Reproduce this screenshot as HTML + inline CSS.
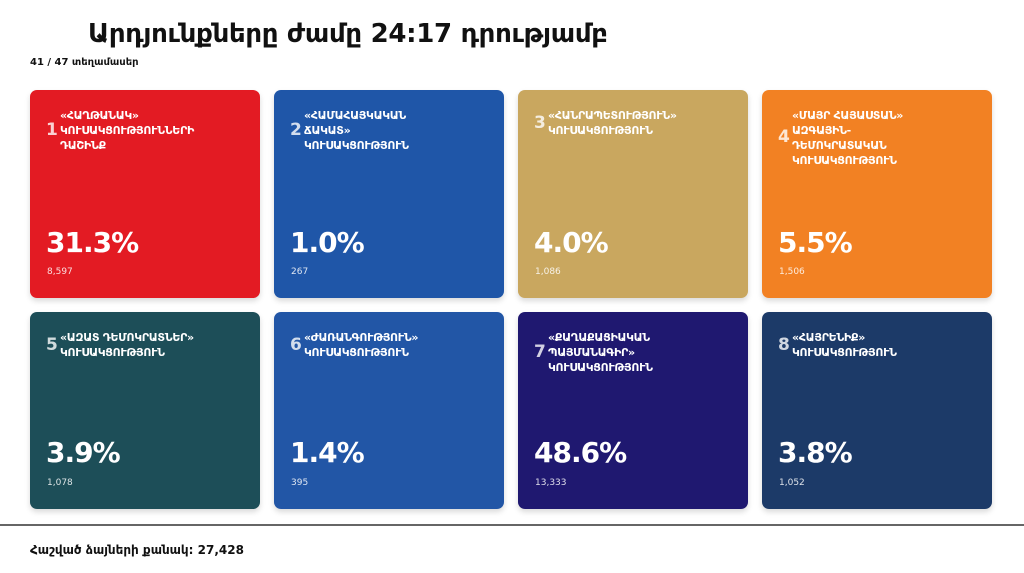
<!DOCTYPE html>
<html><head><meta charset="utf-8"><style>
body{margin:0;width:1024px;height:573px;background:#fff;font-family:"DejaVu Sans","Liberation Sans",sans-serif;position:relative;overflow:hidden}
.t{position:absolute;left:88px;top:19px;font-size:26px;font-weight:bold;color:#111;white-space:nowrap;letter-spacing:-0.3px}
.s{position:absolute;left:30px;top:57px;font-size:10px;font-weight:bold;color:#111}
.c{position:absolute;width:230px;border-radius:7px;color:#fff;box-shadow:0 3px 6px rgba(0,0,0,.15)}
.r1{top:90px;height:208px}.r2{top:312px;height:197px}
.n{position:absolute;left:16px;font-size:17px;font-weight:bold;color:rgba(255,255,255,.8)}
.l{position:absolute;left:30px;top:18px;font-size:11px;font-weight:bold;line-height:15px;white-space:nowrap;letter-spacing:-0.3px}
.p{position:absolute;left:16px;font-size:28px;font-weight:bold;letter-spacing:-1px}
.v{position:absolute;left:17px;font-size:9px;opacity:.85}
.r1 .p{top:136px}.r1 .v{top:177px}
.r2 .p{top:124px}.r2 .v{top:166px}
.hr{position:absolute;left:0;top:524px;width:1024px;height:2px;background:#666}
.f{position:absolute;left:30px;top:543px;font-size:12px;font-weight:bold;color:#111}
</style></head><body>
<div class="t">Արդյունքները ժամը 24:17 դրությամբ</div>
<div class="s">41 / 47 տեղամասեր</div>

<div class="c r1" style="left:30px;background:#e31b23"><div class="n" style="top:30px">1</div><div class="l">«ՀԱՂԹԱՆԱԿ»<br>ԿՈՒՍԱԿՑՈՒԹՅՈՒՆՆԵՐԻ<br>ԴԱՇԻՆՔ</div><div class="p">31.3%</div><div class="v">8,597</div></div>
<div class="c r1" style="left:274px;background:#1f56a8"><div class="n" style="top:30px">2</div><div class="l">«ՀԱՄԱՀԱՅԿԱԿԱՆ<br>ՃԱԿԱՏ»<br>ԿՈՒՍԱԿՑՈՒԹՅՈՒՆ</div><div class="p">1.0%</div><div class="v">267</div></div>
<div class="c r1" style="left:518px;background:#c9a75f"><div class="n" style="top:23px">3</div><div class="l">«ՀԱՆՐԱՊԵՏՈՒԹՅՈՒՆ»<br>ԿՈՒՍԱԿՑՈՒԹՅՈՒՆ</div><div class="p">4.0%</div><div class="v">1,086</div></div>
<div class="c r1" style="left:762px;background:#f28123"><div class="n" style="top:37px">4</div><div class="l">«ՄԱՅՐ ՀԱՅԱՍՏԱՆ»<br>ԱԶԳԱՅԻՆ-<br>ԴԵՄՈԿՐԱՏԱԿԱՆ<br>ԿՈՒՍԱԿՑՈՒԹՅՈՒՆ</div><div class="p">5.5%</div><div class="v">1,506</div></div>

<div class="c r2" style="left:30px;background:#1d4e58"><div class="n" style="top:23px">5</div><div class="l">«ԱԶԱՏ ԴԵՄՈԿՐԱՏՆԵՐ»<br>ԿՈՒՍԱԿՑՈՒԹՅՈՒՆ</div><div class="p">3.9%</div><div class="v">1,078</div></div>
<div class="c r2" style="left:274px;background:#2256a6"><div class="n" style="top:23px">6</div><div class="l">«ԺԱՌԱՆԳՈՒԹՅՈՒՆ»<br>ԿՈՒՍԱԿՑՈՒԹՅՈՒՆ</div><div class="p">1.4%</div><div class="v">395</div></div>
<div class="c r2" style="left:518px;background:#1f1870"><div class="n" style="top:30px">7</div><div class="l">«ՔԱՂԱՔԱՑԻԱԿԱՆ<br>ՊԱՅՄԱՆԱԳԻՐ»<br>ԿՈՒՍԱԿՑՈՒԹՅՈՒՆ</div><div class="p">48.6%</div><div class="v">13,333</div></div>
<div class="c r2" style="left:762px;background:#1c3a68"><div class="n" style="top:23px">8</div><div class="l">«ՀԱՅՐԵՆԻՔ»<br>ԿՈՒՍԱԿՑՈՒԹՅՈՒՆ</div><div class="p">3.8%</div><div class="v">1,052</div></div>

<div class="hr"></div>
<div class="f">Հաշված ձայների քանակ: 27,428</div>
</body></html>
